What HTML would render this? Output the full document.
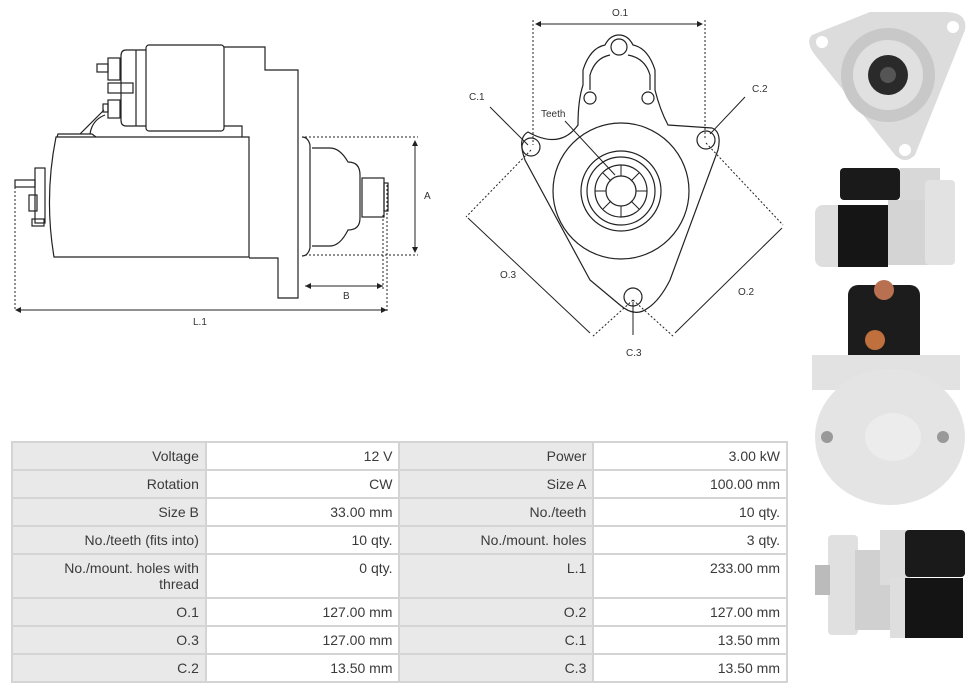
<!DOCTYPE html>
<html><head><meta charset="utf-8"><style>
body{margin:0;background:#fff;width:976px;height:692px;overflow:hidden;position:relative;font-family:"Liberation Sans",sans-serif}
svg{position:absolute;left:0;top:0}
table{position:absolute;left:11px;top:441px;border-collapse:collapse;width:777px;font-size:14px;color:#3a3a3a}
td{border:2px solid #d4d4d4;text-align:right;padding:5px 6px 0 6px;vertical-align:top;height:21px;width:181px}
td.l{background:#e9e9e9}
tr.t td{height:37px;line-height:16px}
</style></head><body>
<svg width="976" height="692" viewBox="0 0 976 692" fill="none" stroke="#222" stroke-width="1.2" font-family="Liberation Sans, sans-serif">
<!-- side view -->
<rect x="146" y="45" width="78" height="86" rx="3" fill="#fff"/>
<path d="M146 50 H126 Q121 50 121 56 V120 Q121 126 126 126 H146"/>
<line x1="136" y1="50" x2="136" y2="126"/>
<rect x="108" y="58" width="12" height="22"/><rect x="97" y="64" width="11" height="8"/>
<rect x="108" y="100" width="12" height="18"/><rect x="103" y="104" width="5" height="8"/>
<rect x="108" y="83" width="25" height="10"/>
<path d="M224 47 H265 V70 H298 V298 H278 V258 H249"/>
<path d="M224 126 H242 V137"/>
<path d="M56 137 H249 V257 H54 Q44 197 56 137Z"/>
<path d="M57 137 L58 134 H92 L96 137"/><path d="M80 134 L104 110 M90 134 Q92 120 105 115"/>
<rect x="35" y="168" width="10" height="55"/><rect x="29" y="195" width="8" height="16"/>
<rect x="15" y="180" width="20" height="7"/><rect x="32" y="219" width="12" height="7"/>
<path d="M302 137 Q308 137 310 145 V248 Q308 256 302 256"/>
<path d="M312 148 H330 Q340 148 348 162 Q360 162 360 175 V218 Q360 230 348 230 Q340 246 330 246 H312"/>
<rect x="362" y="178" width="22" height="39"/><rect x="384" y="183" width="4" height="28"/>
<g stroke-dasharray="2,2" stroke-width="1"><path d="M305 137 H418 M305 255 H418 M15 187 V310 M387 185 V312 M383 215 V290"/></g>
<path d="M415 141 V252 M305 286 H383 M16 310 H386" stroke-width="1"/>
<g fill="#222" stroke="none"><path d="M415 140 l-3 6 h6z M415 253 l-3 -6 h6z M305 286 l6 -3 v6z M383 286 l-6 -3 v6z M15 310 l6 -3 v6z M387 310 l-6 -3 v6z"/></g>
<g fill="#333" stroke="none" font-size="10"><text x="424" y="199">A</text><text x="343" y="299">B</text><text x="193" y="325">L.1</text></g>
<!-- front view -->
<path d="M528 132 Q560 150 578 125 Q578 100 583 85 V70 Q590 48 605 45 Q610 35 619 35 Q628 35 633 45 Q648 48 655 70 V90 Q660 110 668 125 L712 128 Q722 132 718 150 L670 280 Q660 300 648 308 Q635 318 620 305 L590 280 L525 160 Q517 138 528 132Z"/>
<path d="M590 90 V75 Q595 58 610 55 M628 55 Q645 58 650 75 V90"/>
<circle cx="531" cy="147" r="9"/><circle cx="706" cy="140" r="9"/><circle cx="633" cy="297" r="9"/>
<circle cx="619" cy="47" r="8"/><circle cx="590" cy="98" r="6"/><circle cx="648" cy="98" r="6"/>
<circle cx="621" cy="191" r="68"/><circle cx="621" cy="191" r="40"/><circle cx="621" cy="191" r="34"/>
<circle cx="621" cy="191" r="26"/><circle cx="621" cy="191" r="15"/>
<g stroke-width="1">
<path d="M621 165 V176 M621 217 V206 M595 191 H606 M647 191 H636 M603 173 L611 181 M639 209 L631 201 M639 173 L631 181 M603 209 L611 201"/>
</g>
<g stroke-dasharray="2,2" stroke-width="1"><path d="M533 20 V145 M705 20 V140 M531 150 L466 217 M706 143 L783 225 M633 300 L592 337 M633 300 L674 337"/></g>
<path d="M536 24 H702 M468 218 L590 333 M782 228 L675 333 M633 335 V302 M490 107 L528 145 M745 97 L710 134 M565 121 L615 175" stroke-width="1"/>
<g fill="#222" stroke="none"><path d="M535 24 l6 -3 v6z M703 24 l-6 -3 v6z"/></g>
<g fill="#333" stroke="none" font-size="10"><text x="612" y="16">O.1</text><text x="469" y="100">C.1</text><text x="752" y="92">C.2</text><text x="541" y="117">Teeth</text><text x="500" y="278">O.3</text><text x="738" y="295">O.2</text><text x="626" y="356">C.3</text></g>
<!-- photos -->
<g stroke="none">
<path d="M812 35 L870 12 L945 12 Q968 12 965 30 L915 155 Q905 165 895 155 L815 55 Q805 42 812 35Z" fill="#dcdcdc"/>
<circle cx="888" cy="75" r="47" fill="#c8c8c8"/><circle cx="888" cy="75" r="35" fill="#e0e0e0"/>
<circle cx="888" cy="75" r="20" fill="#2a2a2a"/><circle cx="888" cy="75" r="8" fill="#555"/>
<circle cx="822" cy="42" r="6" fill="#fff"/><circle cx="953" cy="27" r="6" fill="#fff"/><circle cx="905" cy="150" r="6" fill="#fff"/>
<rect x="840" y="168" width="60" height="32" rx="4" fill="#1a1a1a"/><rect x="900" y="168" width="40" height="32" fill="#d8d8d8"/>
<rect x="815" y="205" width="40" height="62" rx="8" fill="#dedede"/><rect x="838" y="205" width="50" height="62" fill="#151515"/>
<rect x="888" y="200" width="40" height="65" fill="#d4d4d4"/><rect x="925" y="180" width="30" height="85" rx="4" fill="#e2e2e2"/>
<rect x="848" y="285" width="72" height="80" rx="10" fill="#1c1c1c"/><circle cx="884" cy="290" r="10" fill="#b87050"/><circle cx="875" cy="340" r="10" fill="#c0703c"/>
<path d="M812 355 L960 355 L960 390 L812 390Z" fill="#e2e2e2"/>
<ellipse cx="890" cy="437" rx="75" ry="68" fill="#e4e4e4"/><ellipse cx="893" cy="437" rx="28" ry="24" fill="#ececec"/>
<circle cx="827" cy="437" r="6" fill="#999"/><circle cx="943" cy="437" r="6" fill="#999"/>
<rect x="828" y="535" width="30" height="100" rx="4" fill="#e0e0e0"/><rect x="855" y="550" width="40" height="80" fill="#d0d0d0"/>
<rect x="880" y="530" width="30" height="55" fill="#dcdcdc"/><rect x="905" y="530" width="60" height="47" rx="4" fill="#1a1a1a"/>
<rect x="890" y="578" width="30" height="60" fill="#dedede"/><rect x="905" y="578" width="58" height="60" fill="#141414"/>
<rect x="815" y="565" width="15" height="30" fill="#bbb"/>
</g>
</svg>
<table>
<tr><td class="l">Voltage</td><td>12 V</td><td class="l">Power</td><td>3.00 kW</td></tr>
<tr><td class="l">Rotation</td><td>CW</td><td class="l">Size A</td><td>100.00 mm</td></tr>
<tr><td class="l">Size B</td><td>33.00 mm</td><td class="l">No./teeth</td><td>10 qty.</td></tr>
<tr><td class="l">No./teeth (fits into)</td><td>10 qty.</td><td class="l">No./mount. holes</td><td>3 qty.</td></tr>
<tr class="t"><td class="l">No./mount. holes with<br>thread</td><td>0 qty.</td><td class="l">L.1</td><td>233.00 mm</td></tr>
<tr><td class="l">O.1</td><td>127.00 mm</td><td class="l">O.2</td><td>127.00 mm</td></tr>
<tr><td class="l">O.3</td><td>127.00 mm</td><td class="l">C.1</td><td>13.50 mm</td></tr>
<tr><td class="l">C.2</td><td>13.50 mm</td><td class="l">C.3</td><td>13.50 mm</td></tr>
</table>
</body></html>
